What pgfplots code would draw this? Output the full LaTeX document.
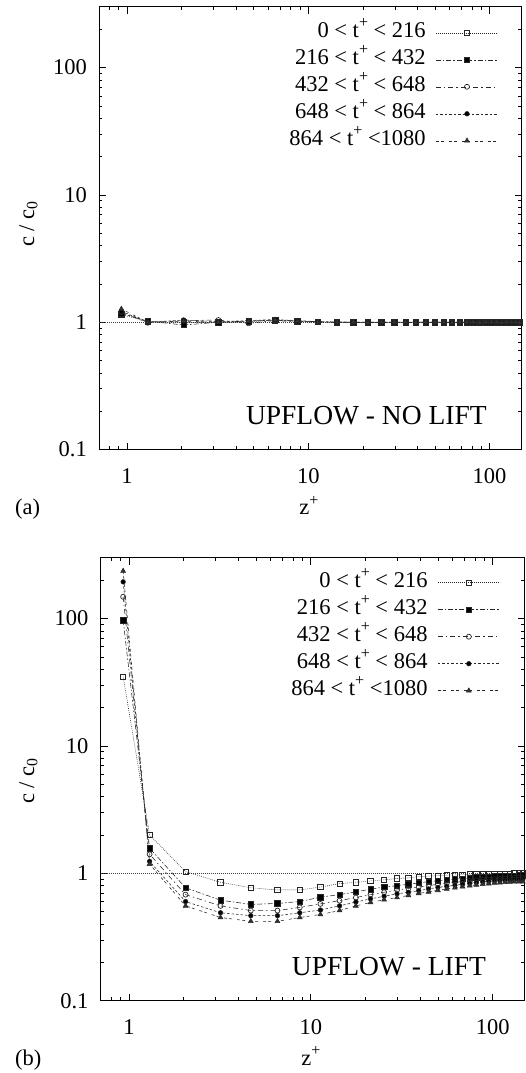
\documentclass[border=0pt]{standalone}
\usepackage{fontspec}
\setmainfont{Liberation Serif}
\usepackage{pgfplots}
\usepackage{pgfplotstable}
\pgfplotsset{compat=1.18}

\newcommand{\psup}{\raisebox{0.42em}{\fontsize{16}{16}\selectfont +}}

\pgfplotstableread{
z      s1     s2     s3     s4     s5
0.93   1.15   1.17   1.20   1.22   1.27
1.30   1.01   1.02   0.99   1.00   1.00
2.05   1.00   0.95   1.03   1.04   1.02
3.19   0.99   1.00   1.04   1.01   1.00
4.68   1.01   1.02   0.98   1.03   1.02
6.56   1.03   1.04   1.03   1.05   1.04
8.70   1.02   1.02   1.01   1.03   1.02
11.3   1.01   1.01   1.00   1.01   1.00
14.4   1.00   1.00   1.00   1.00   1.00
17.7   1.00   1.00   0.995  1.00   1.00
21.3   1.00   0.995  1.00   1.00   0.995
25.3   1.00   1.00   1.00   0.995  1.00
29.8   0.995  1.00   1.00   1.00   1.00
34.4   1.00   1.00   0.995  1.00   1.00
39.2   1.00   0.995  1.00   1.00   0.995
44.4   1.00   1.00   1.00   0.995  1.00
50.0   0.995  1.00   1.00   1.00   1.00
55.9   1.00   1.00   0.995  1.00   1.00
62.0   1.00   0.995  1.00   1.00   0.995
68.3   1.00   1.00   1.00   0.995  1.00
74.8   0.995  1.00   1.00   1.00   1.00
81.4   1.00   1.00   0.995  1.00   1.00
88.2   1.00   0.995  1.00   1.00   0.995
95.2   1.00   1.00   1.00   0.995  1.00
102.3  0.995  1.00   1.00   1.00   1.00
109.5  1.00   1.00   0.995  1.00   1.00
116.8  1.00   0.995  1.00   1.00   0.995
124.1  1.00   1.00   1.00   0.995  1.00
131.5  0.995  1.00   1.00   1.00   1.00
138.9  1.00   1.00   0.995  1.00   1.00
146.3  1.00   0.995  1.00   1.00   0.995
}\tblA

\pgfplotstableread{
z      s1     s2     s3     s4     s5
0.93   35     97     148    194    236
1.30   2.0    1.57   1.41   1.24   1.18
2.05   1.03   0.77   0.68   0.60   0.555
3.19   0.85   0.615  0.555  0.49   0.45
4.68   0.77   0.57   0.51   0.465  0.42
6.56   0.74   0.58   0.51   0.465  0.42
8.70   0.74   0.60   0.54   0.49   0.45
11.3   0.78   0.65   0.575  0.515  0.475
14.4   0.83   0.68   0.61   0.555  0.51
17.7   0.85   0.715  0.645  0.595  0.555
21.3   0.87   0.75   0.68   0.63   0.59
25.3   0.89   0.78   0.71   0.66   0.62
29.8   0.91   0.80   0.74   0.69   0.645
34.4   0.92   0.82   0.76   0.71   0.67
39.2   0.94   0.84   0.78   0.73   0.695
44.4   0.95   0.86   0.80   0.755  0.715
50.0   0.96   0.875  0.82   0.775  0.735
55.9   0.965  0.89   0.835  0.79   0.755
62.0   0.97   0.90   0.85   0.805  0.77
68.3   0.975  0.91   0.86   0.82   0.785
74.8   0.98   0.92   0.87   0.835  0.80
81.4   0.98   0.93   0.88   0.845  0.81
88.2   0.985  0.935  0.89   0.855  0.82
95.2   0.99   0.94   0.895  0.865  0.83
102.3  0.99   0.945  0.90   0.87   0.84
109.5  0.99   0.95   0.905  0.875  0.845
116.8  0.995  0.955  0.91   0.88   0.85
124.1  0.995  0.96   0.915  0.885  0.855
131.5  1.00   0.96   0.92   0.89   0.86
138.9  1.00   0.965  0.92   0.89   0.86
146.3  1.00   0.965  0.92   0.89   0.86
}\tblB

\pgfplotsset{
  legend image code/.code={\draw[mark repeat=2, mark phase=2, #1] plot coordinates {(0pt,0pt) (31pt,0pt) (62pt,0pt)};},
  sA/.style={black!85, line width=0.55pt, dash pattern=on 0.8pt off 1.2pt, mark=square, mark size=2.7pt, mark options={solid, line width=0.7pt, fill=white}},
  sB/.style={black!85, line width=0.55pt, dash pattern=on 5pt off 2pt on 1.5pt off 2pt, mark=square*, mark size=2.7pt, mark options={solid, fill=black}},
  sC/.style={black!85, line width=0.55pt, dash pattern=on 5pt off 3pt on 1.5pt off 3pt, mark=o, mark size=2.5pt, mark options={solid, line width=0.7pt, fill=white}},
  sD/.style={black!85, line width=0.55pt, dash pattern=on 2.5pt off 2pt, mark=*, mark size=2.3pt, mark options={solid, fill=black}},
  sE/.style={black!85, line width=0.55pt, dash pattern=on 3pt off 2pt on 3pt off 5pt, mark=triangle*, mark size=2.8pt, mark options={solid, fill=black!80}},
  refline/.style={black!75, line width=0.5pt, dash pattern=on 0.8pt off 1.2pt, forget plot},
}

\begin{document}
\begin{tikzpicture}[font=\fontsize{22.5}{27}\selectfont]
\path[use as bounding box] (0pt,0pt) rectangle (526pt,1073pt);

% ---------- panel (a)
\begin{axis}[xmode=log, ymode=log, scale only axis,
  xmin=0.7, xmax=150, ymin=0.1, ymax=300,
  xtick={1,10,100}, xticklabels={1,10,100},
  ytick={0.1,1,10,100}, yticklabels={0.1,1,10,100},
  minor xtick={0.8,0.9,2,3,4,5,6,7,8,9,20,30,40,50,60,70,80,90},
  minor ytick={0.2,0.3,0.4,0.5,0.6,0.7,0.8,0.9,2,3,4,5,6,7,8,9,20,30,40,50,60,70,80,90,200},
  major tick length=7pt, minor tick length=3.5pt,
  tick style={black, line width=0.6pt},
  axis line style={black, line width=0.9pt},
  font=\fontsize{22.5}{27}\selectfont,
  xticklabel style={inner sep=0pt, anchor=north, yshift=-18.5pt},
  yticklabel style={inner sep=0pt, anchor=east, xshift=-12pt},
  legend plot pos=right,
  legend cell align=right,
  legend style={draw=none, fill=none, anchor=north east, inner sep=0pt, outer sep=0pt,
    column sep=10pt, row sep=0pt, font=\fontsize{22.5}{27}\selectfont,
    nodes={inner sep=0pt, text height=18pt, text depth=9pt},
    at={(0.945,0.972)}},
  at={(99pt,623.5pt)}, anchor=south west,
  width=422.5pt, height=442.6pt]
\addplot[refline] coordinates {(0.7,1) (150,1)};
\addplot[sA] table[x=z, y=s1] {\tblA};
\addlegendentry{0 < t\psup\ < 216}
\addplot[sB] table[x=z, y=s2] {\tblA};
\addlegendentry{216 < t\psup\ < 432}
\addplot[sC] table[x=z, y=s3] {\tblA};
\addlegendentry{432 < t\psup\ < 648}
\addplot[sD] table[x=z, y=s4] {\tblA};
\addlegendentry{648 < t\psup\ < 864}
\addplot[sE] table[x=z, y=s5] {\tblA};
\addlegendentry{864 < t\psup\ <1080}
\node[anchor=base east, inner sep=0pt, font=\fontsize{27.5}{33}\selectfont] at (rel axis cs:0.918,0.0554) {UPFLOW - NO LIFT};
\end{axis}

% ---------- panel (b)
\begin{axis}[xmode=log, ymode=log, scale only axis,
  xmin=0.7, xmax=150, ymin=0.1, ymax=300,
  xtick={1,10,100}, xticklabels={1,10,100},
  ytick={0.1,1,10,100}, yticklabels={0.1,1,10,100},
  minor xtick={0.8,0.9,2,3,4,5,6,7,8,9,20,30,40,50,60,70,80,90},
  minor ytick={0.2,0.3,0.4,0.5,0.6,0.7,0.8,0.9,2,3,4,5,6,7,8,9,20,30,40,50,60,70,80,90,200},
  major tick length=7pt, minor tick length=3.5pt,
  tick style={black, line width=0.6pt},
  axis line style={black, line width=0.9pt},
  font=\fontsize{22.5}{27}\selectfont,
  xticklabel style={inner sep=0pt, anchor=north, yshift=-18.5pt},
  yticklabel style={inner sep=0pt, anchor=east, xshift=-12pt},
  legend plot pos=right,
  legend cell align=right,
  legend style={draw=none, fill=none, anchor=north east, inner sep=0pt, outer sep=0pt,
    column sep=10pt, row sep=0pt, font=\fontsize{22.5}{27}\selectfont,
    nodes={inner sep=0pt, text height=18pt, text depth=9pt},
    at={(0.942,0.974)}},
  at={(100.7pt,72.3pt)}, anchor=south west,
  width=424pt, height=443pt]
\addplot[refline] coordinates {(0.7,1) (150,1)};
\addplot[sA] table[x=z, y=s1] {\tblB};
\addlegendentry{0 < t\psup\ < 216}
\addplot[sB] table[x=z, y=s2] {\tblB};
\addlegendentry{216 < t\psup\ < 432}
\addplot[sC] table[x=z, y=s3] {\tblB};
\addlegendentry{432 < t\psup\ < 648}
\addplot[sD] table[x=z, y=s4] {\tblB};
\addlegendentry{648 < t\psup\ < 864}
\addplot[sE] table[x=z, y=s5] {\tblB};
\addlegendentry{864 < t\psup\ <1080}
\node[anchor=base east, inner sep=0pt, font=\fontsize{27.5}{33}\selectfont] at (rel axis cs:0.909,0.0558) {UPFLOW - LIFT};
\end{axis}

% ---------- outer labels
\node[anchor=base west, inner sep=0pt] at (15pt,558pt) {(a)};
\node[anchor=base, inner sep=0pt] at (309pt,558pt) {z\psup};
\node[rotate=90, anchor=base, inner sep=0pt] at (34pt,849pt) {c / c\textsubscript{0}};

\node[anchor=base west, inner sep=0pt] at (15pt,8pt) {(b)};
\node[anchor=base, inner sep=0pt] at (311pt,8pt) {z\psup};
\node[rotate=90, anchor=base, inner sep=0pt] at (34pt,292pt) {c / c\textsubscript{0}};
\end{tikzpicture}
\end{document}
